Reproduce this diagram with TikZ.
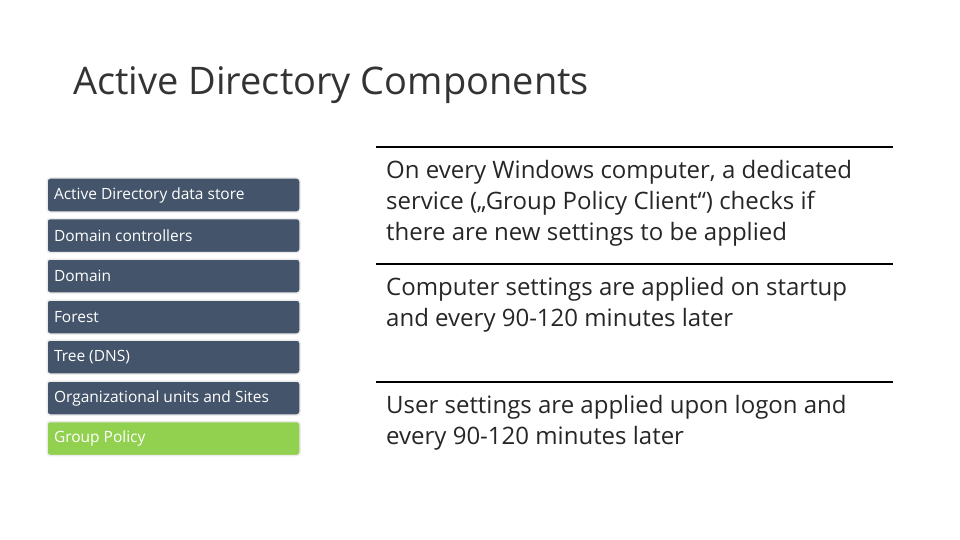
\documentclass[tikz,border=0pt]{standalone}
\usepackage{fontspec}
\setmainfont{Open Sans}
\definecolor{slate}{HTML}{44546A}
\definecolor{leaf}{HTML}{92D050}
\tikzset{
  item/.style={draw=gray!15, line width=1.5pt, rounded corners=3pt, fill=slate,
    minimum width=253pt, minimum height=34pt, text=white, font=\fontsize{15.5}{18}\selectfont,
    text width=239pt, align=flush left, inner sep=7pt},
  note/.style={anchor=north west, text width=540pt, align=flush left, inner sep=0pt,
    font=\fontsize{24}{31}\selectfont, text=black!85},
  rule/.style={line width=1.2pt}
}
\begin{document}
\begin{tikzpicture}[x=1pt, y=-1pt]
\useasboundingbox (0,0) rectangle (960,540);
\node[anchor=base west, font=\fontsize{38}{46}\selectfont, text=black!80, inner sep=0pt] (title) at (73,95) {Active Directory Components};
% left column
\node[item] (store) at (173.5,195) {Active Directory data store};
\node[item] (dc) at (173.5,235.5) {Domain controllers};
\node[item] (dom) at (173.5,276) {Domain};
\node[item] (forest) at (173.5,317) {Forest};
\node[item] (tree) at (173.5,357) {Tree (DNS)};
\node[item] (ou) at (173.5,398) {Organizational units and Sites};
\node[item, fill=leaf] (gp) at (173.5,438.5) {Group Policy};
% right column
\coordinate (l1a) at (376,147); \coordinate (l1b) at (893,147);
\coordinate (l2a) at (376,264); \coordinate (l2b) at (893,264);
\coordinate (l3a) at (376,382); \coordinate (l3b) at (893,382);
\draw[rule] (l1a) -- (l1b);
\draw[rule] (l2a) -- (l2b);
\draw[rule] (l3a) -- (l3b);
\node[note] (n1) at (386,160) {On every Windows computer, a dedicated\\ service („Group Policy Client“) checks if\\ there are new settings to be applied};
\node[note] (n2) at (386,277) {Computer settings are applied on startup\\ and every 90-120 minutes later};
\node[note] (n3) at (386,395) {User settings are applied upon logon and\\ every 90-120 minutes later};
\end{tikzpicture}
\end{document}
